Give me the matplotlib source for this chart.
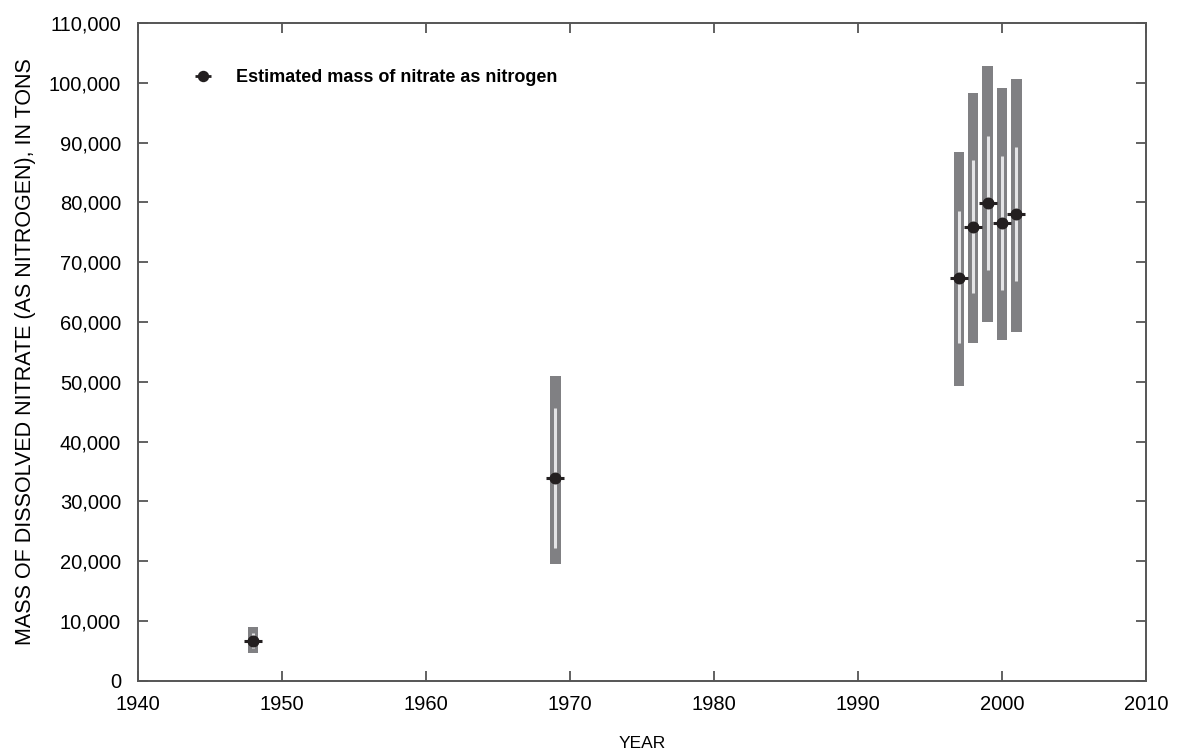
import matplotlib.pyplot as plt
from matplotlib.lines import Line2D
from matplotlib.legend_handler import HandlerTuple

plt.rcParams['font.family'] = ['Liberation Sans', 'DejaVu Sans']

# Estimated nitrate mass per year with outer and inner uncertainty ranges (tons)
years = [1948, 1969, 1997, 1998, 1999, 2000, 2001]
mass = [6700, 33950, 67300, 75900, 79900, 76500, 78000]
outer_low = [4650, 19600, 49300, 56500, 60000, 57000, 58300]
outer_high = [9000, 51000, 88500, 98300, 102800, 99100, 100700]
inner_low = [5550, 22200, 56400, 64900, 68700, 65400, 66900]
inner_high = [7950, 45600, 78600, 87100, 91100, 87700, 89200]

bar_grey = '#808083'
inner_grey = '#e4e4e6'
dot = '#231f20'
spine = '#555555'

fig = plt.figure(figsize=(11.78, 7.49), dpi=100)
ax = fig.add_axes([0.1169, 0.0912, 0.8559, 0.8781])

for yr, lo, hi in zip(years, outer_low, outer_high):
    ax.bar(yr, hi - lo, bottom=lo, width=0.72, color=bar_grey, zorder=2)
for yr, lo, hi in zip(years, inner_low, inner_high):
    ax.vlines(yr, lo, hi, color=inner_grey, linewidth=2.2, zorder=3)

ax.plot(years, mass, linestyle='none', marker='_', markersize=12.5,
        markeredgewidth=2.2, color=dot, zorder=4)
ax.plot(years, mass, linestyle='none', marker='o', markersize=7.6,
        color=dot, zorder=5)

ax.set_xlim(1940, 2010)
ax.set_ylim(0, 110000)
ax.set_xticks(range(1940, 2011, 10))
ax.set_yticks(range(0, 110001, 10000))
ax.set_yticklabels([f'{v:,}' for v in range(0, 110001, 10000)])
ax.tick_params(direction='in', length=7.5, width=1.3, color=spine,
               labelsize=14.5, top=True, right=True)
ax.tick_params(axis='y', pad=12)
ax.tick_params(axis='x', pad=10)
for s in ax.spines.values():
    s.set_color(spine)
    s.set_linewidth(1.4)

ax.set_xlabel('YEAR', fontsize=12.5, labelpad=16)
ax.set_ylabel('MASS OF DISSOLVED NITRATE (AS NITROGEN), IN TONS',
              fontsize=15.5, labelpad=9)

h_dash = Line2D([], [], linestyle='none', marker='_', markersize=11,
                markeredgewidth=2, color=dot)
h_dot = Line2D([], [], linestyle='none', marker='o', markersize=7.2, color=dot)
ax.legend([(h_dash, h_dot)], ['Estimated mass of nitrate as nitrogen'],
          handler_map={tuple: HandlerTuple(ndivide=1)},
          loc='upper left', bbox_to_anchor=(0.04, 0.955), frameon=False,
          handlelength=1.0, handletextpad=1.3,
          prop={'weight': 'bold', 'size': 13})

fig.savefig('out.png', dpi=100)
